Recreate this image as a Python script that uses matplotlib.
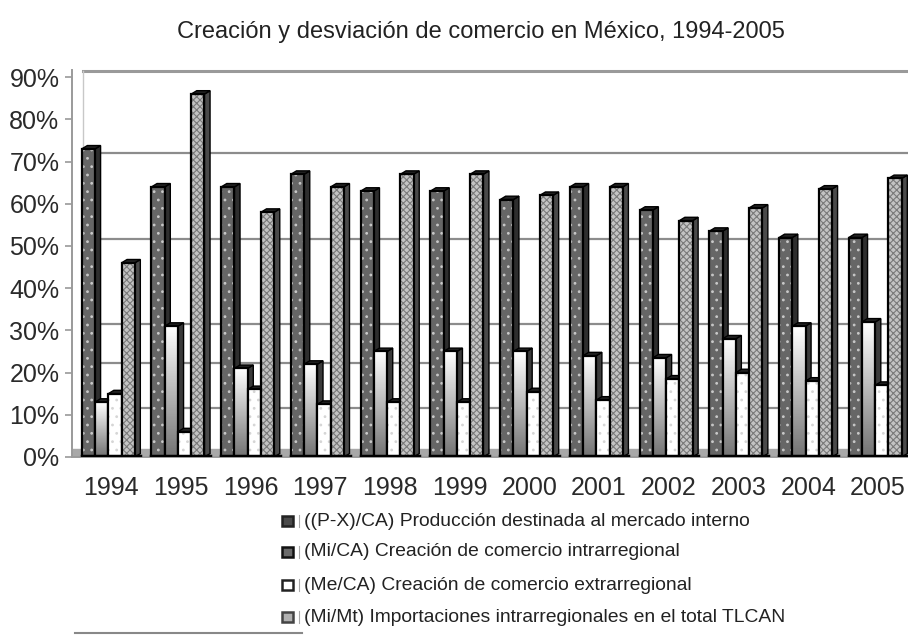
import matplotlib
matplotlib.use("Agg")
import matplotlib.pyplot as plt
import numpy as np
from matplotlib.patches import Rectangle, Polygon
from matplotlib.lines import Line2D

plt.rcParams['font.family'] = ['Liberation Sans', 'DejaVu Sans']
plt.rcParams['hatch.linewidth'] = 0.8

years = ['1994', '1995', '1996', '1997', '1998', '1999', '2000', '2001', '2002', '2003', '2004', '2005']
prod_interno = [73, 64, 64, 67, 63, 63, 61, 64, 58.5, 53.5, 52, 52]
creacion_intra = [13, 31, 21, 22, 25, 25, 25, 24, 23.5, 28, 31, 32]
creacion_extra = [15, 6, 16, 12.5, 13, 13, 15.5, 13.5, 18.5, 20, 18, 17]
import_intra = [46, 86, 58, 64, 67, 67, 62, 64, 56, 59, 63.5, 66]
series_labels = ['((P-X)/CA) Producción destinada al mercado interno',
                 '(Mi/CA) Creación de comercio intrarregional',
                 '(Me/CA) Creación de comercio extrarregional',
                 '(Mi/Mt) Importaciones intrarregionales en el total TLCAN']
yticks = [0, 10, 20, 30, 40, 50, 60, 70, 80, 90]
grid_levels = [11.6, 22.3, 31.5, 51.7, 72.0]

W, H = 908, 635
fig = plt.figure(figsize=(W / 100, H / 100), dpi=100)
ax = fig.add_axes([72 / W, (H - 457) / H, (W - 72) / W, (457 - 70) / H])

xmin, xmax = -0.56, 11.43
ymax = 91.7
ax.set_xlim(xmin, xmax)
ax.set_ylim(0, ymax)

wall_x = -0.40
# back wall gridlines
for g in grid_levels:
    ax.plot([wall_x, xmax], [g, g], color='#8c8c8c', lw=1.6, zorder=0.4)
ax.plot([wall_x, xmax], [ymax - 0.25, ymax - 0.25], color='#9a9a9a', lw=2.2, zorder=0.4, clip_on=False)
ax.plot([wall_x, wall_x], [1.5, ymax - 0.25], color='#c8c8c8', lw=1.0, zorder=0.4)
# floor
ax.axhspan(0, 1.8, color='#a8a8a8', zorder=0.45)

step = 0.19
fw = 0.19
depth = 0.08
dh = 0.8
offsets = np.array([-1.5, -0.5, 0.5, 1.5]) * step

front_cols = ['#666666', None, '#ffffff', '#c4c4c4']
side_cols = ['#2e2e2e', '#3a3a3a', '#555555', '#4a4a4a']
hatches = ['..', None, '..', 'xxxxx']
hatch_cols = ['#c8c8c8', None, '#d6d6d6', '#7a7a7a']

grad = np.linspace(1.0, 0.45, 100).reshape(-1, 1)

all_series = [prod_interno, creacion_intra, creacion_extra, import_intra]
z = 2.0
for i in range(len(years)):
    for s, vals in enumerate(all_series):
        h = vals[i]
        x0 = i + offsets[s] - (fw + depth) / 2 + depth / 2
        x0 = i + offsets[s] - fw / 2 - depth / 2
        x1 = x0 + fw
        # side face
        side = Polygon([[x1, 0], [x1 + depth, dh], [x1 + depth, h + dh], [x1, h]],
                       closed=True, facecolor=side_cols[s], edgecolor='black', lw=1.0, zorder=z)
        ax.add_patch(side)
        # top cap
        top = Polygon([[x0, h], [x1, h], [x1 + depth, h + dh], [x0 + depth, h + dh]],
                      closed=True, facecolor='#222222', edgecolor='black', lw=1.0, zorder=z)
        ax.add_patch(top)
        if s == 1:
            ax.imshow(grad, extent=[x0, x1, 0, h], aspect='auto', cmap='gray',
                      vmin=0, vmax=1, zorder=z + 0.1, interpolation='bilinear')
            ax.bar(x0, h, width=fw, align='edge', facecolor='none', edgecolor='black',
                   lw=1.6, zorder=z + 0.2)
        else:
            ax.bar(x0, h, width=fw, align='edge', facecolor=front_cols[s], edgecolor='none',
                   lw=0, zorder=z + 0.1)
            ax.bar(x0, h, width=fw, align='edge', facecolor='none', edgecolor=hatch_cols[s],
                   hatch=hatches[s], lw=0, zorder=z + 0.15)
            ax.bar(x0, h, width=fw, align='edge', facecolor='none', edgecolor='black',
                   lw=1.6, zorder=z + 0.2)
        z += 0.5
    # group base line
    gx0 = i + offsets[0] - fw / 2 - depth / 2
    gx1 = i + offsets[3] + fw / 2 + depth / 2
    ax.plot([gx0, gx1], [0.25, 0.25], color='black', lw=2.5, zorder=z)

ax.set_xticks(range(len(years)))
ax.set_xticklabels(years)
ax.set_yticks(yticks)
ax.set_yticklabels([f'{v}%' for v in yticks])
ax.tick_params(axis='x', length=0, pad=14, labelsize=18, labelcolor='#2a2a2a')
ax.tick_params(axis='y', length=5, width=1.2, color='#9a9a9a', pad=4, labelsize=18, labelcolor='#2a2a2a')
for sp in ['top', 'right']:
    ax.spines[sp].set_visible(False)
ax.spines['left'].set_color('#9a9a9a')
ax.spines['left'].set_linewidth(1.4)
ax.spines['bottom'].set_color('#9a9a9a')
ax.spines['bottom'].set_linewidth(1.4)

fig.text(481 / W, 1 - 32 / H, 'Creación y desviación de comercio en México, 1994-2005',
         ha='center', va='center', fontsize=17, color='#222222')

# legend
leg_y = [521, 552, 585, 617]
leg_face = ['#4a4a4a', '#6a6a6a', '#ffffff', '#b0b0b0']
leg_edge = ['#222222', '#111111', '#222222', '#444444']
for k in range(4):
    yc = 1 - leg_y[k] / H
    r = Rectangle((282 / W, yc - 5 / H), 11 / W, 10 / H, transform=fig.transFigure,
                  facecolor=leg_face[k], edgecolor=leg_edge[k], lw=1.8)
    fig.add_artist(r)
    fig.add_artist(Line2D([299 / W, 299 / W], [yc - 6 / H, yc + 6 / H], transform=fig.transFigure,
                          color='#aaaaaa', lw=0.8))
    fig.text(304 / W, yc, series_labels[k], ha='left', va='center', fontsize=13.9, color='#222222')
fig.add_artist(Line2D([75 / W, 302 / W], [1 - 633 / H, 1 - 633 / H], transform=fig.transFigure,
                      color='#888888', lw=1.5))

fig.savefig('out.png', dpi=100)
